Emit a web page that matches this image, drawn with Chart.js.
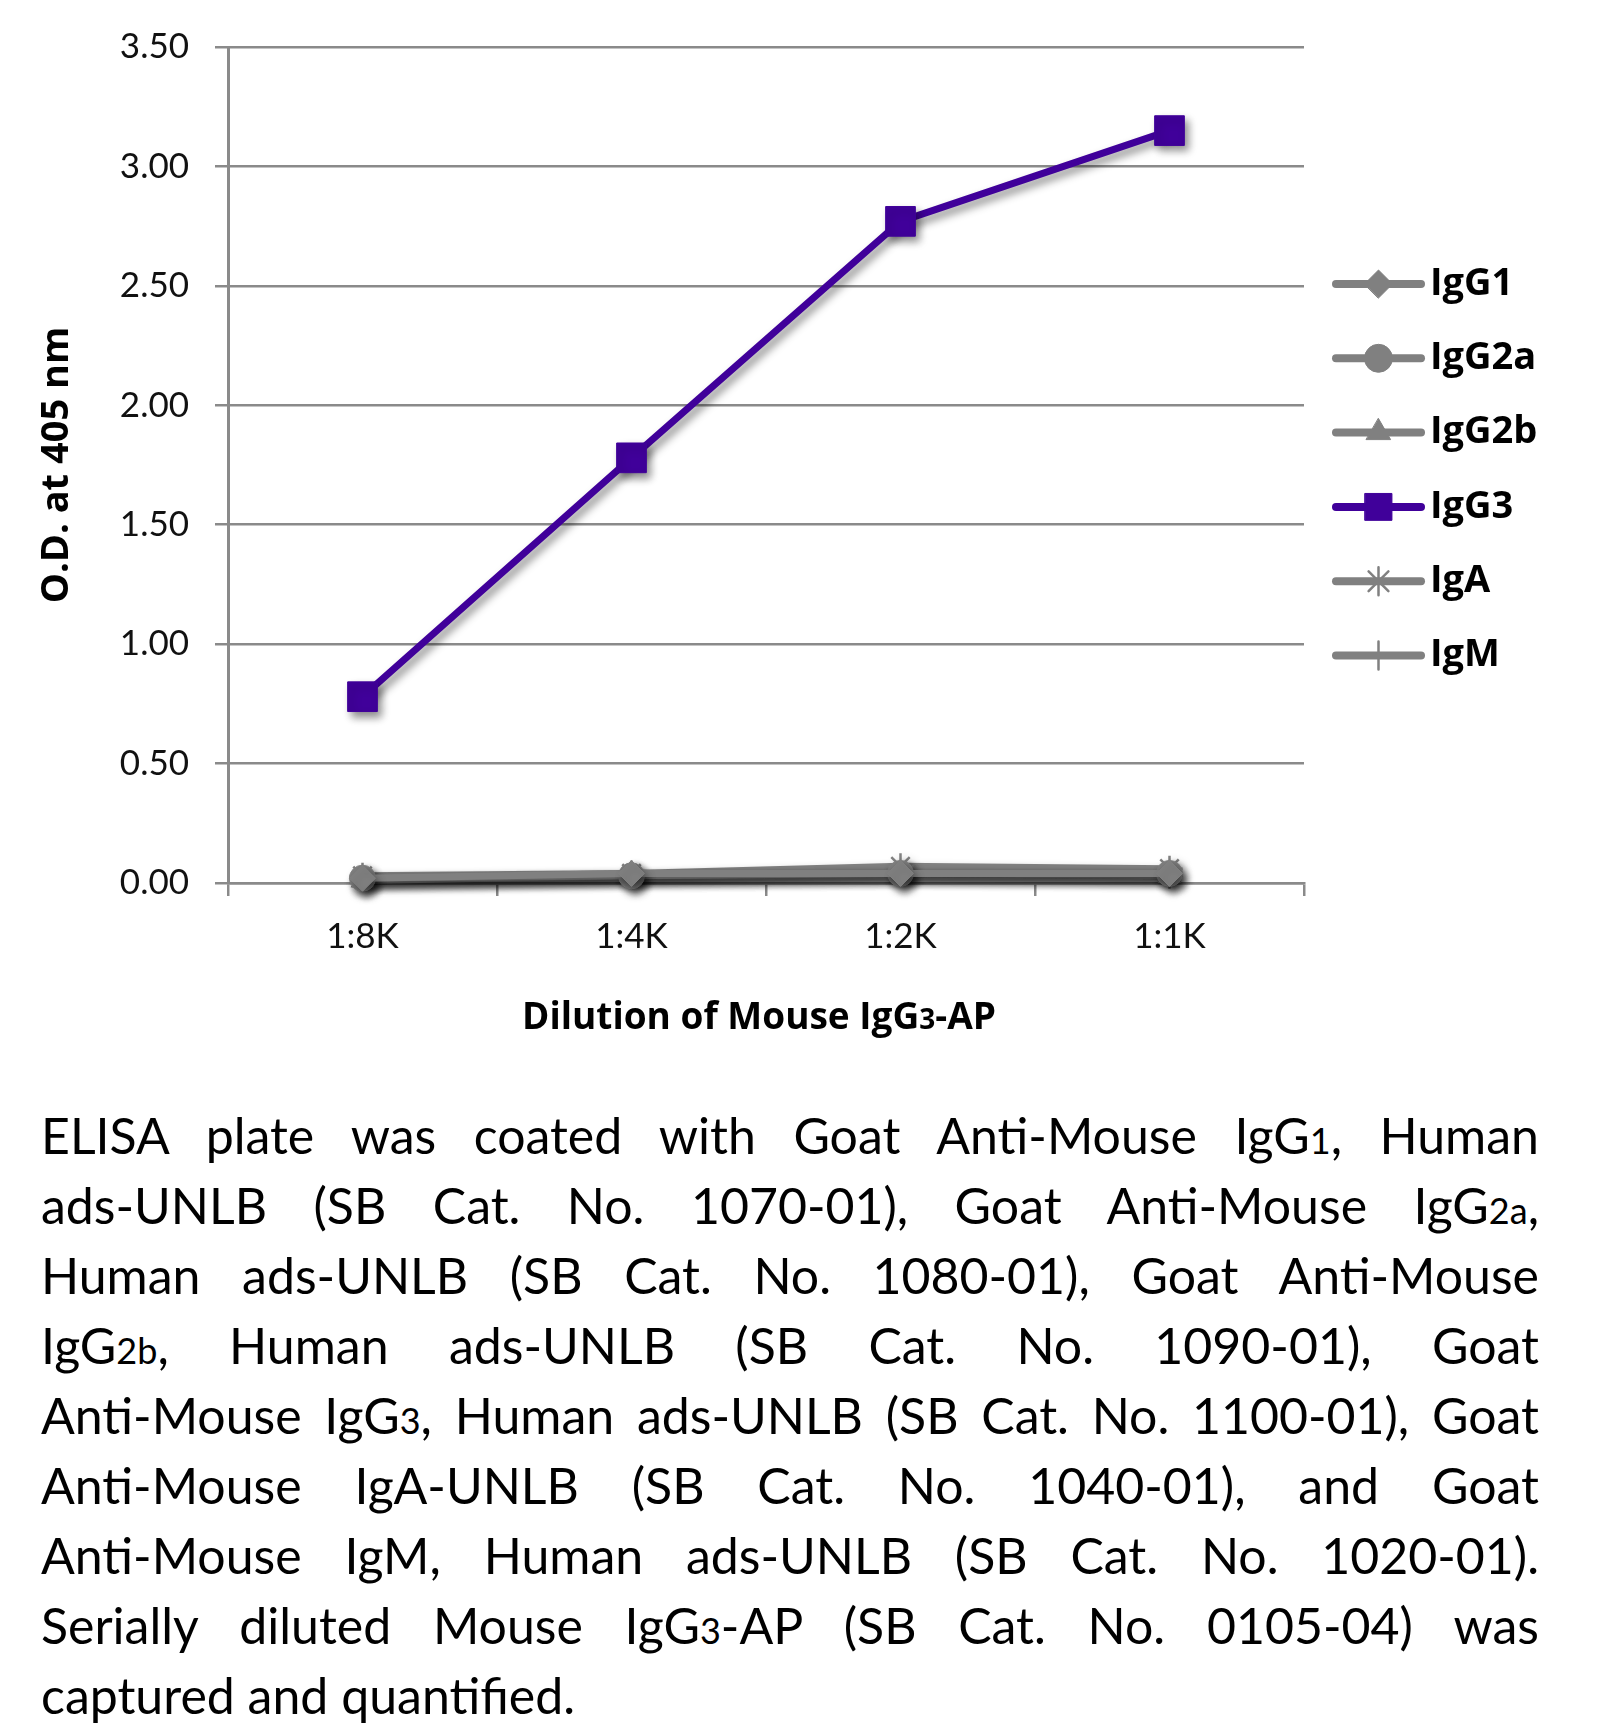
<!DOCTYPE html>
<html>
<head>
<meta charset="utf-8">
<script src="https://cdn.jsdelivr.net/npm/chart.js@4.4.1/dist/chart.umd.min.js"></script>
<style>
  html, body { margin: 0; padding: 0; background: #fff; }
  #wrap { position: relative; width: 1614px; height: 1728px; }
  #chartBox { position: absolute; left: 0; top: 0; width: 1614px; height: 1065px; }
  #caption {
    position: absolute; left: 41px; top: 1100px; width: 1498px;
    font-family: Lato, "Open Sans", sans-serif; font-size: 50px; line-height: 70px; color: #000;
  }
  #caption div { text-align: justify; text-align-last: justify; white-space: normal; height: 70px; }
  #caption div.last { text-align: left; text-align-last: left; }
  #caption .s { font-size: 0.72em; line-height: 1; }
</style>
</head>
<body>
<div id="wrap">
  <div id="chartBox"><canvas id="elisaChart"></canvas></div>
  <div id="caption">
    <div>ELISA plate was coated with Goat Anti-Mouse IgG<span class="s">1</span>, Human</div>
    <div>ads-UNLB (SB Cat. No. 1070-01), Goat Anti-Mouse IgG<span class="s">2a</span>,</div>
    <div>Human ads-UNLB (SB Cat. No. 1080-01), Goat Anti-Mouse</div>
    <div>IgG<span class="s">2b</span>, Human ads-UNLB (SB Cat. No. 1090-01), Goat</div>
    <div>Anti-Mouse IgG<span class="s">3</span>, Human ads-UNLB (SB Cat. No. 1100-01), Goat</div>
    <div>Anti-Mouse IgA-UNLB (SB Cat. No. 1040-01), and Goat</div>
    <div>Anti-Mouse IgM, Human ads-UNLB (SB Cat. No. 1020-01).</div>
    <div>Serially diluted Mouse IgG<span class="s">3</span>-AP (SB Cat. No. 0105-04) was</div>
    <div class="last">captured and quantified.</div>
  </div>
</div>
<script>
// data
const dilutions = ['1:8K', '1:4K', '1:2K', '1:1K'];
const seriesNames = ['IgG1', 'IgG2a', 'IgG2b', 'IgG3', 'IgA', 'IgM'];
const igg1 = [0.02, 0.04, 0.04, 0.04];
const igg2a = [0.02, 0.03, 0.04, 0.04];
const igg2b = [0.01, 0.03, 0.04, 0.03];
const igg3 = [0.78, 1.78, 2.77, 3.15];
const iga = [0.03, 0.04, 0.07, 0.06];
const igm = [0.02, 0.03, 0.04, 0.03];
const yTicks = [0, 0.5, 1, 1.5, 2, 2.5, 3, 3.5];

const GRAY = '#808080';
const PURPLE = '#40009a';
const GRID = '#8a8a8a';

window.chartInstances = {};

// fit caption lines into the column width
function fitCaption() {
    const cap = document.getElementById('caption');
    const probe = document.createElement('span');
    probe.style.whiteSpace = 'nowrap';
    probe.style.visibility = 'hidden';
    probe.style.position = 'absolute';
    cap.appendChild(probe);
    let maxW = 0;
    cap.querySelectorAll('div').forEach(function(d) {
        probe.innerHTML = d.innerHTML;
        maxW = Math.max(maxW, probe.getBoundingClientRect().width);
    });
    cap.removeChild(probe);
    if (maxW > 1490) {
        cap.style.fontSize = (50 * 1490 / maxW).toFixed(2) + 'px';
    }
}

// soft drop shadow under the plotted lines
const shadowPlugin = {
    id: 'lineShadow',
    beforeDatasetsDraw(chart) {
        const ctx = chart.ctx;
        ctx.save();
        ctx.shadowColor = 'rgba(0,0,0,0.45)';
        ctx.shadowBlur = 8;
        ctx.shadowOffsetX = 4;
        ctx.shadowOffsetY = 5;
    },
    afterDatasetsDraw(chart) {
        chart.ctx.restore();
    }
};

// legend on the right: line with marker, bold name
const sideLegend = {
    id: 'sideLegend',
    afterDraw(chart) {
        const ctx = chart.ctx;
        const x0 = 1336, x1 = 1421, tx = 1430;
        chart.data.datasets.forEach(function(ds, i) {
            const y = 284 + i * 74.3;
            ctx.save();
            ctx.lineCap = 'round';
            ctx.strokeStyle = ds.borderColor;
            ctx.lineWidth = 8;
            ctx.beginPath();
            ctx.moveTo(x0, y);
            ctx.lineTo(x1, y);
            ctx.stroke();
            ctx.fillStyle = ds.pointBackgroundColor;
            ctx.strokeStyle = ds.pointBorderColor;
            ctx.lineWidth = ds.pointBorderWidth;
            const r = ds.pointStyle === 'rect' ? 19 : 14;
            Chart.helpers.drawPoint(ctx, { pointStyle: ds.pointStyle, radius: r, rotation: 0, borderWidth: ds.pointBorderWidth }, (x0 + x1) / 2, y);
            ctx.fillStyle = '#000';
            ctx.font = 'bold 38px "Open Sans", Lato, sans-serif';
            ctx.textBaseline = 'middle';
            ctx.textAlign = 'left';
            ctx.fillText(ds.label, tx, y);
            ctx.restore();
        });
    }
};

// x axis title with the small "3"
const xTitle = {
    id: 'xTitle',
    afterDraw(chart) {
        const ctx = chart.ctx;
        const parts = [['Dilution of Mouse IgG', 37], ['3', 28], ['-AP', 37]];
        ctx.save();
        ctx.fillStyle = '#000';
        ctx.textBaseline = 'alphabetic';
        let total = 0;
        parts.forEach(function(p) {
            ctx.font = 'bold ' + p[1] + 'px "Open Sans", Lato, sans-serif';
            total += ctx.measureText(p[0]).width;
        });
        let x = 759 - total / 2;
        parts.forEach(function(p) {
            ctx.font = 'bold ' + p[1] + 'px "Open Sans", Lato, sans-serif';
            ctx.textAlign = 'left';
            ctx.fillText(p[0], x, 1029);
            x += ctx.measureText(p[0]).width;
        });
        ctx.restore();
    }
};

function makeSet(name, values, color, style, bw) {
    return {
        label: name,
        data: values,
        borderColor: color,
        backgroundColor: color,
        borderWidth: 7,
        pointStyle: style,
        pointRadius: style === 'rect' ? 21 : 13,
        pointBackgroundColor: color,
        pointBorderColor: color,
        pointBorderWidth: bw,
        tension: 0,
        clip: false
    };
}

window.initializeChart = function(canvasId) {
    try {
        const canvas = document.getElementById(canvasId);
        if (!canvas) {
            console.error(`Canvas element not found: ${canvasId}`);
            return;
        }
        const ctx = canvas.getContext('2d');

        window.chartInstances[canvasId] = new Chart(ctx, {
            type: 'line',
            data: {
                labels: dilutions,
                datasets: [
                    makeSet(seriesNames[0], igg1, GRAY, 'rectRot', 1),
                    makeSet(seriesNames[1], igg2a, GRAY, 'circle', 1),
                    makeSet(seriesNames[2], igg2b, GRAY, 'triangle', 1),
                    makeSet(seriesNames[3], igg3, PURPLE, 'rect', 1),
                    makeSet(seriesNames[4], iga, GRAY, 'star', 2.5),
                    makeSet(seriesNames[5], igm, GRAY, 'cross', 2.5)
                ]
            },
            options: {
                responsive: true,
                maintainAspectRatio: false,
                animation: false,
                layout: { padding: { left: 0, right: 310, top: 46, bottom: 0 } },
                plugins: {
                    legend: { display: false },
                    tooltip: { enabled: false }
                },
                scales: {
                    x: {
                        offset: true,
                        grid: {
                            display: true,
                            drawOnChartArea: false,
                            offset: true,
                            tickLength: 13,
                            color: GRID,
                            lineWidth: 2.5
                        },
                        border: { display: true, color: GRID, width: 2.5 },
                        ticks: {
                            color: '#111',
                            padding: 20,
                            font: { family: 'Lato, "Open Sans", sans-serif', size: 35 }
                        },
                        afterFit(scale) { scale.height = 1065 - 883; }
                    },
                    y: {
                        min: 0,
                        max: 3.5,
                        afterBuildTicks(scale) {
                            scale.ticks = yTicks.map(v => ({ value: v }));
                        },
                        grid: {
                            color: GRID,
                            lineWidth: 2.5,
                            tickLength: 13
                        },
                        border: { display: true, color: GRID, width: 3 },
                        ticks: {
                            color: '#111',
                            padding: 26,
                            font: { family: 'Lato, "Open Sans", sans-serif', size: 35 }
                        },
                        title: {
                            display: true,
                            text: 'O.D. at 405 nm',
                            color: '#000',
                            padding: { top: 34, bottom: 0 },
                            font: { family: '"Open Sans", Lato, sans-serif', size: 38, weight: 'bold' }
                        },
                        afterFit(scale) { scale.width = 228; }
                    }
                }
            },
            plugins: [shadowPlugin, sideLegend, xTitle]
        });
        // tick labels with two decimals
        window.chartInstances[canvasId].options.scales.y.ticks.callback = v => Number(v).toFixed(2);
        window.chartInstances[canvasId].update();
        console.log(`Chart ${canvasId} created`);
    } catch (error) {
        console.error(`Error initializing chart ${canvasId}:`, error);
        console.error(error.stack);
    }
};

fitCaption();
window.initializeChart('elisaChart');
</script>
</body>
</html>
